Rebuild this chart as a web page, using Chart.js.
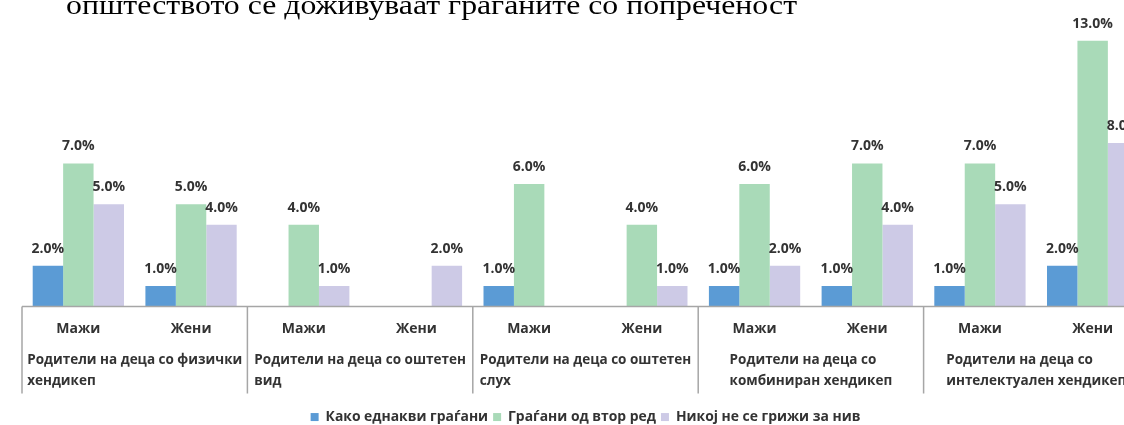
<!DOCTYPE html>
<html>
<head>
<meta charset="utf-8">
<script src="https://cdn.jsdelivr.net/npm/chart.js@4"></script>
<style>
  html, body { margin: 0; padding: 0; background: #fff; overflow: hidden; width: 1124px; height: 425px; }
  #title { position: absolute; left: 66px; top: -8px; font: 27px "Liberation Serif", serif; line-height: 27px; white-space: nowrap; color: #000; z-index: 2; transform: scaleX(1.177); transform-origin: 0 0; }
  #wrap { position: absolute; left: 0; top: 0; width: 1149px; height: 434px; }
</style>
</head>
<body>
<div id="title">општеството се доживуваат граѓаните со попреченост</div>
<div id="wrap"><canvas id="chart"></canvas></div>
<script>
var categories = ["Мажи", "Жени", "Мажи", "Жени", "Мажи", "Жени", "Мажи", "Жени", "Мажи", "Жени"]
var groups = [
    ["Родители на деца со физички", "хендикеп"],
    ["Родители на деца со оштетен", "вид"],
    ["Родители на деца со оштетен", "слух"],
    ["Родители на деца со", "комбиниран хендикеп"],
    ["Родители на деца со", "интелектуален хендикеп"],
]
var equalCitizens = [2, 1, 0, 0, 1, 0, 1, 1, 1, 2]
var secondClass = [7, 5, 4, 0, 6, 4, 6, 7, 7, 13]
var nobodyCares = [5, 4, 1, 2, 0, 1, 2, 4, 5, 8]

var textColor = "#333"
var lineColor = "#a6a6a6"
var font = "'Open Sans', sans-serif"

// group separators, group names and value labels
var extras = {
    id: "extras",
    afterDraw: function (chart) {
        var ctx = chart.ctx
        var area = chart.chartArea
        var cat = (area.right - area.left) / categories.length
        ctx.save()

        ctx.strokeStyle = lineColor
        ctx.lineWidth = 1.5
        ctx.beginPath()
        ctx.moveTo(area.left, area.bottom)
        ctx.lineTo(area.right, area.bottom)
        for (var g = 0; g <= groups.length; g++) {
            var sx = area.left + g * 2 * cat
            ctx.moveTo(sx, area.bottom)
            ctx.lineTo(sx, area.bottom + 87)
        }
        ctx.stroke()

        ctx.fillStyle = textColor
        ctx.font = "bold 13.5px " + font
        ctx.textAlign = "left"
        ctx.textBaseline = "middle"
        groups.forEach(function (lines, g) {
            var w = Math.max.apply(null, lines.map(function (l) { return ctx.measureText(l).width }))
            var left = area.left + g * 2 * cat + (2 * cat - w) / 2
            lines.forEach(function (l, i) {
                ctx.fillText(l, left, area.bottom + 54 + i * 21)
            })
        })

        ctx.font = "bold 14px " + font
        ctx.textAlign = "center"
        ctx.textBaseline = "alphabetic"
        chart.data.datasets.forEach(function (ds, di) {
            chart.getDatasetMeta(di).data.forEach(function (bar, i) {
                if (!ds.data[i]) return
                ctx.fillText(ds.data[i].toFixed(1) + "%", bar.x, bar.y - 13)
            })
        })
        ctx.restore()
    },
}

new Chart("chart", {
    type: "bar",
    data: {
        labels: categories,
        datasets: [
            { label: "Како еднакви граѓани", data: equalCitizens, backgroundColor: "#5b9bd5" },
            { label: "Граѓани од втор ред", data: secondClass, backgroundColor: "#a9dab8" },
            { label: "Никој не се грижи за нив", data: nobodyCares, backgroundColor: "#cdcae6" },
        ],
    },
    options: {
        responsive: true,
        maintainAspectRatio: false,
        animation: false,
        layout: { padding: { left: 22 } },
        datasets: { bar: { categoryPercentage: 0.81, barPercentage: 1 } },
        scales: {
            x: {
                grid: { display: false, drawTicks: false },
                border: { display: false },
                ticks: { autoSkip: false, maxRotation: 0, padding: 14, color: textColor, font: { family: font, size: 14, weight: "bold" } },
                afterFit: function (s) { s.height = 98.6 },
            },
            y: {
                display: false,
                min: 0,
                max: 15,
            },
        },
        plugins: {
            legend: {
                position: "bottom",
                labels: { boxWidth: 8, boxHeight: 8, padding: 5, color: textColor, font: { family: font, size: 13.9, weight: "bold" } },
            },
            tooltip: { enabled: false },
        },
    },
    plugins: [extras],
})
</script>
</body>
</html>
